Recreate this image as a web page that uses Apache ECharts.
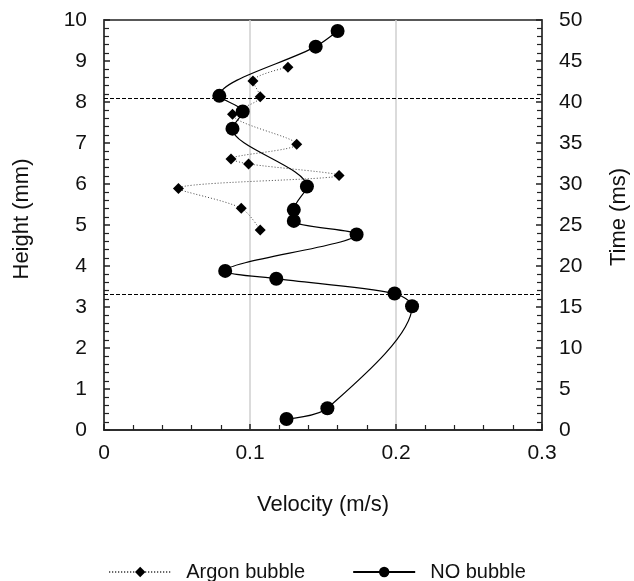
<!DOCTYPE html>
<html><head><meta charset="utf-8">
<script src="https://cdn.jsdelivr.net/npm/echarts@6/dist/echarts.min.js"></script>
<style>html,body{margin:0;padding:0;background:#fff}#c{width:634px;height:581px}</style>
</head><body><div id="c"></div>
<script>
// NO bubble: velocity (m/s) vs height (mm)
const noVelocity = [0.125, 0.153, 0.211, 0.199, 0.118, 0.083, 0.173, 0.130, 0.130, 0.139, 0.088, 0.095, 0.079, 0.145, 0.160];
const noHeight   = [0.27, 0.53, 3.02, 3.33, 3.69, 3.88, 4.77, 5.10, 5.37, 5.94, 7.35, 7.77, 8.15, 9.35, 9.73];
// Argon bubble
const arVelocity = [0.107, 0.094, 0.051, 0.161, 0.099, 0.087, 0.132, 0.088, 0.107, 0.102, 0.126];
const arHeight   = [4.88, 5.41, 5.89, 6.21, 6.49, 6.61, 6.97, 7.70, 8.13, 8.51, 8.85];
// Dashed reference heights (mm)
const refHeights = [3.3, 8.1];
const seriesNames = ['Argon bubble', 'NO bubble'];

const font = 'Liberation Sans, Arial, sans-serif';
const chart = echarts.init(document.getElementById('c'));
const pairs = (xs, ys) => xs.map((x, i) => [x, ys[i]]);
const tickCommon = {
  axisLine: {show: true, lineStyle: {color: '#222', width: 1.5}},
  axisTick: {show: true, inside: true, length: 6, lineStyle: {color: '#222', width: 1.5}},
  minorTick: {show: true, splitNumber: 5, length: 5, lineStyle: {color: '#222', width: 1.2}},
  axisLabel: {color: '#111', fontSize: 21, fontFamily: font},
  nameTextStyle: {color: '#111', fontSize: 22, fontFamily: font}
};
chart.setOption({
  animation: false,
  grid: {left: 104, right: 92, top: 20, bottom: 151, show: true, borderColor: '#222', borderWidth: 1.5,
         containLabel: false, outerBoundsMode: 'none'},
  xAxis: Object.assign({}, tickCommon, {
    type: 'value', min: 0, max: 0.3, interval: 0.1,
    name: 'Velocity (m/s)', nameLocation: 'middle', nameGap: 64,
    axisLabel: Object.assign({}, tickCommon.axisLabel, {margin: 13}),
    splitLine: {show: true, lineStyle: {color: '#cfcfcf', width: 1.5}}
  }),
  yAxis: [
    Object.assign({}, tickCommon, {
      type: 'value', min: 0, max: 10, interval: 1, position: 'left',
      name: 'Height (mm)', nameLocation: 'middle', nameGap: 71,
      axisLabel: Object.assign({}, tickCommon.axisLabel, {margin: 17}),
      nameTextStyle: Object.assign({}, tickCommon.nameTextStyle, {padding: [0, 0, 0, 12]}),
      splitLine: {show: false}
    }),
    Object.assign({}, tickCommon, {
      type: 'value', min: 0, max: 50, interval: 5, position: 'right',
      name: 'Time (ms)', nameLocation: 'middle', nameGap: 66,
      axisLabel: Object.assign({}, tickCommon.axisLabel, {margin: 17}),
      nameTextStyle: Object.assign({}, tickCommon.nameTextStyle, {padding: [0, 0, 0, 16]}),
      splitLine: {show: false}
    })
  ],
  legend: {
    top: 557, left: 'center', itemGap: 47, itemWidth: 62, itemHeight: 13,
    textStyle: {color: '#111', fontSize: 20, fontFamily: font, padding: [0, 0, 0, 10]},
    data: seriesNames
  },
  series: [
    {
      name: seriesNames[0], type: 'line', data: pairs(arVelocity, arHeight),
      smooth: 0.3, symbol: 'diamond', symbolSize: 11,
      itemStyle: {color: '#000'},
      lineStyle: {color: '#444', width: 1, type: [1, 2]},
      markLine: {
        silent: true, symbol: 'none', label: {show: false},
        lineStyle: {color: '#000', width: 1.2, type: [4, 2]},
        data: refHeights.map(h => ({yAxis: h}))
      }
    },
    {
      name: seriesNames[1], type: 'line', data: pairs(noVelocity, noHeight),
      smooth: 0.3, symbol: 'circle', symbolSize: 14,
      itemStyle: {color: '#000'},
      lineStyle: {color: '#000', width: 1.2}
    }
  ]
});
</script></body></html>
